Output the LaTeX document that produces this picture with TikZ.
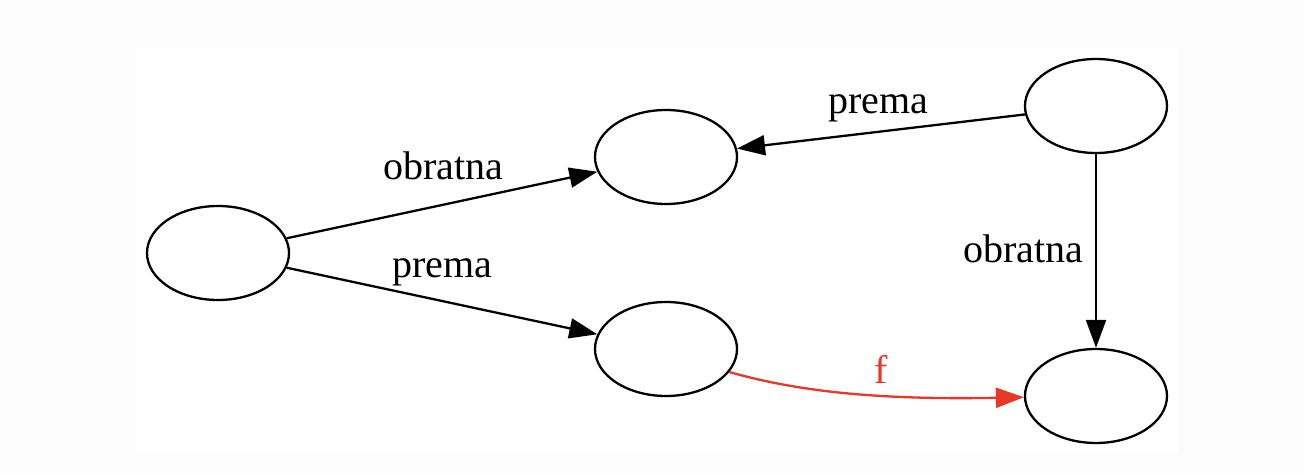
\documentclass[tikz,border=0pt]{standalone}
\usepackage{fontspec}
\setmainfont{Liberation Serif}
\usetikzlibrary{shapes.geometric,arrows.meta}
\definecolor{pagebg}{RGB}{252,252,252}
\definecolor{edgered}{RGB}{232,56,40}
\begin{document}
\begin{tikzpicture}[x=1pt,y=-1pt,
  st/.style={draw=black, line width=2.3pt, ellipse, minimum width=142pt, minimum height=94pt, inner sep=0pt},
  conn/.style={line width=2.3pt, -{Triangle[length=28pt,width=20pt]}},
  lbl/.style={font=\fontsize{40}{48}\selectfont, anchor=base, inner sep=0pt}]
\fill[pagebg] (0,0) rectangle (1304,473);
\fill[white] (136,48) rectangle (1178,452);
\useasboundingbox (0,0) rectangle (1304,473);
\node[st] (a) at (218,253) {};
\node[st] (b) at (666,157) {};
\node[st] (c) at (666,349) {};
\node[st] (d) at (1096,106) {};
\node[st] (e) at (1096,396) {};
\draw[conn] (a) -- node[lbl, xshift=1pt, yshift=25pt] {obratna} (b);
\draw[conn] (a) -- node[lbl, xshift=0pt, yshift=24pt] {prema} (c);
\draw[conn] (d) -- node[lbl, xshift=-2.5pt, yshift=17.5pt] {prema} (b);
\draw[conn] (d) -- node[lbl, xshift=-72.5pt, yshift=-11pt] {obratna} (e);
\draw[conn, edgered] (c.-20) .. controls (800,392) and (880,400) .. node[lbl, text=edgered, xshift=32pt, yshift=10pt] {f} (e.181);
\end{tikzpicture}
\end{document}
